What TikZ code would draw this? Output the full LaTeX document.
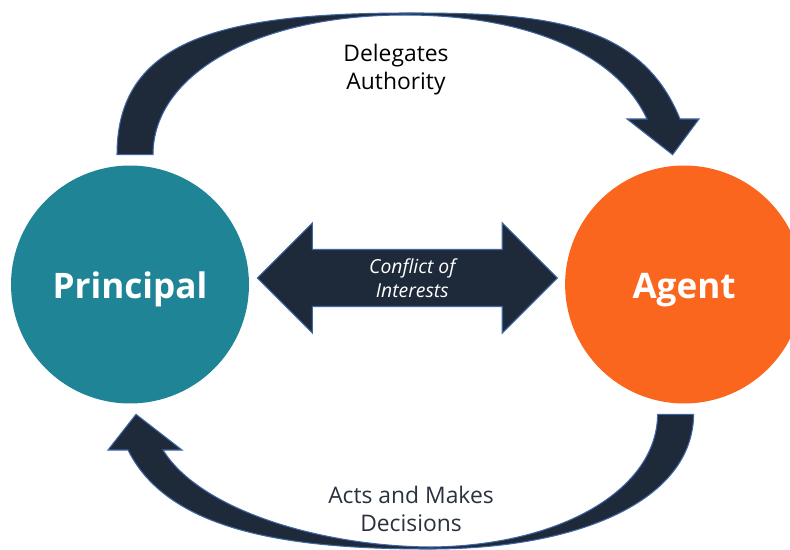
\documentclass[tikz,border=0pt]{standalone}
\usepackage{fontspec}
\setmainfont{Open Sans}
\usetikzlibrary{calc}
\usetikzlibrary{positioning}
\definecolor{tealc}{HTML}{1F8496}
\definecolor{orangec}{HTML}{FA661D}
\definecolor{navy}{HTML}{1E2A3A}
\definecolor{rim}{HTML}{3F67A6}
\definecolor{slate}{HTML}{2A323D}

\begin{document}
\begin{tikzpicture}[x=0.02cm, y=-0.02cm,
    party/.style={circle, minimum size=4.76cm, inner sep=0pt, text=white,
      text height=15.4pt, text depth=0pt,
      font=\bfseries\fontsize{20}{24}\selectfont},
    fat/.style={fill=navy, draw=rim, line width=0.6pt, line join=miter},
    lbl/.style={align=center, font=\fontsize{13}{16}\selectfont}]
  \useasboundingbox (0,0) rectangle (790,550);
  \clip (0,0) rectangle (790,550);

  \node[party, fill=tealc] (pr) at (130,284.5) {Principal};
  \node[party, fill=orangec, right=6.31cm of pr] (ag) {Agent};

  % delegates authority
  \coordinate (ta) at ($(pr.north)+(-13,-10.5)$);
  \coordinate (tb) at ($(pr.north)+(23,-10.5)$);
  \coordinate (tt) at ($(ag.north)+(-11.5,-10.5)$);
  \filldraw[fat] (ta) .. controls (117,40) and (220,13) .. (410,13)
    .. controls (540,13) and (640,20) .. (680,119) -- (699,119) -- (tt)
    -- (627,119) -- (647,119) .. controls (615,50) and (520,15) .. (405,15)
    .. controls (255,15) and (153,75) .. (tb) -- cycle;

  % acts and makes decisions
  \coordinate (ba) at ($(ag.south)+(9.5,10.5)$);
  \coordinate (bb) at ($(ag.south)+(-26.5,10.5)$);
  \coordinate (bt) at ($(pr.south)+(6,10.5)$);
  \filldraw[fat] (ba) .. controls (693,500) and (580,549) .. (430,549)
    .. controls (300,549) and (170,535) .. (128,450) -- (108,450) -- (bt)
    -- (182,450) -- (163,450) .. controls (200,510) and (320,546) .. (430,547)
    .. controls (560,546) and (657,490) .. (bb) -- cycle;

  % conflict of interests
  \coordinate (cl) at ($(pr.east)+(8,-6.5)$);
  \coordinate (cr) at ($(ag.west)+(-7.5,-6.5)$);
  \filldraw[fat] (cl) -- ++(55,-55) -- ++(0,26.5) -- ($(cr)+(-55,-28.5)$)
    -- ++(0,-26.5) -- (cr) -- ++(-55,55) -- ++(0,-26.5)
    -- ($(cl)+(55,28.5)$) -- ++(0,26.5) -- cycle;

  \node[lbl] (deleg) at (396,70) {Delegates\\Authority};
  \node[lbl, text=slate] (acts) at (411,509) {Acts and Makes\\Decisions};
  \node[align=center, text=white, font=\itshape\fontsize{11}{13.5}\selectfont]
    (conf) at ($(cl)!0.5!(cr)+(5,0)$) {Conflict of\\Interests};
\end{tikzpicture}
\end{document}
